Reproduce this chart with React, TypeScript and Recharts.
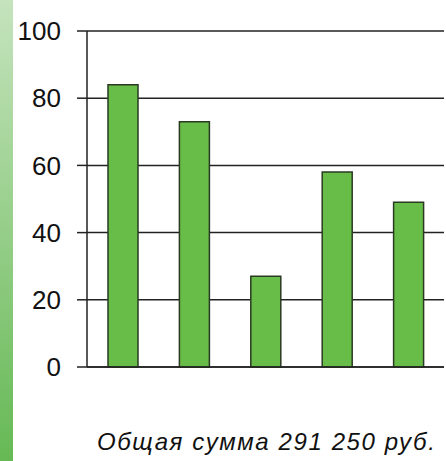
import React from "react";
import { BarChart, Bar, XAxis, YAxis, CartesianGrid } from "recharts";

const categories = ["1", "2", "3", "4", "5"];
const values = [84, 73, 27, 58, 49];
const yTicks = [0, 20, 40, 60, 80, 100];
const caption = "Общая сумма 291 250 руб.";

const data = categories.map((c, i) => ({ name: c, value: values[i] }));

export default function App() {
  return (
    <div
      style={{
        position: "absolute",
        left: 0,
        top: 0,
        width: 446,
        height: 461,
        background: "#fff",
        overflow: "hidden",
        fontFamily: "'Liberation Sans', Arial, sans-serif",
      }}
    >
      <div
        style={{
          position: "absolute",
          left: 0,
          top: 0,
          width: 13,
          height: 461,
          background: "linear-gradient(to bottom, #c5e3bd, #66b955)",
        }}
      />
      <BarChart
        width={446}
        height={400}
        data={data}
        margin={{ top: 31, right: 2, bottom: 0, left: 0 }}
        barCategoryGap={0}
      >
        <CartesianGrid vertical={false} stroke="#222" strokeWidth={1.5} horizontalValues={yTicks} />
        <XAxis
          dataKey="name"
          height={33}
          tick={false}
          tickLine={false}
          axisLine={{ stroke: "#222", strokeWidth: 1.5 }}
        />
        <YAxis
          domain={[0, 100]}
          ticks={yTicks}
          width={87}
          tickSize={10}
          tickMargin={16}
          interval={0}
          axisLine={{ stroke: "#222", strokeWidth: 1.5 }}
          tickLine={{ stroke: "#222", strokeWidth: 1.5 }}
          tick={{ fill: "#111", fontSize: 26, fontFamily: "'Liberation Sans', Arial, sans-serif" }}
        />
        <Bar
          dataKey="value"
          fill="#68bd48"
          stroke="#2a3a22"
          strokeWidth={1.5}
          barSize={30}
          isAnimationActive={false}
        />
      </BarChart>
      <div
        style={{
          position: "absolute",
          left: 97,
          top: 428,
          fontSize: 24,
          fontStyle: "italic",
          color: "#111",
          whiteSpace: "nowrap",
          letterSpacing: 1.6,
        }}
      >
        {caption}
      </div>
    </div>
  );
}
